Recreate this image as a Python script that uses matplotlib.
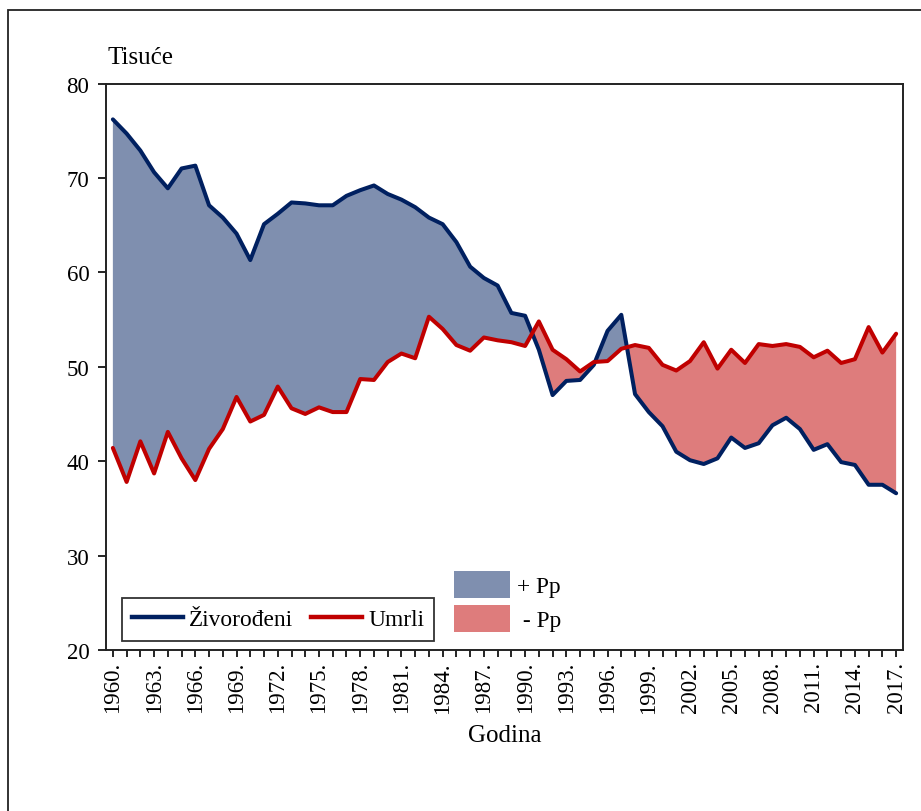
import matplotlib
matplotlib.use("Agg")
import matplotlib.pyplot as plt
from matplotlib.patches import Patch, Rectangle
from matplotlib.lines import Line2D
import numpy as np

years = list(range(1960, 2018))
births = [76.2, 74.7, 72.9, 70.6, 68.9, 71.0, 71.3, 67.1, 65.8, 64.1,
          61.3, 65.1, 66.2, 67.4, 67.3, 67.1, 67.1, 68.1, 68.7, 69.2,
          68.3, 67.7, 66.9, 65.8, 65.1, 63.2, 60.6, 59.4, 58.6, 55.7,
          55.4, 51.8, 47.0, 48.5, 48.6, 50.2, 53.8, 55.5, 47.1, 45.2,
          43.7, 41.0, 40.1, 39.7, 40.3, 42.5, 41.4, 41.9, 43.8, 44.6,
          43.4, 41.2, 41.8, 39.9, 39.6, 37.5, 37.5, 36.6]
deaths = [41.4, 37.8, 42.1, 38.7, 43.1, 40.3, 38.0, 41.3, 43.4, 46.8,
          44.2, 44.9, 47.9, 45.6, 45.0, 45.7, 45.2, 45.2, 48.7, 48.6,
          50.5, 51.4, 50.9, 55.3, 54.0, 52.3, 51.7, 53.1, 52.8, 52.6,
          52.2, 54.8, 51.8, 50.8, 49.5, 50.5, 50.6, 51.9, 52.3, 52.0,
          50.2, 49.6, 50.6, 52.6, 49.8, 51.8, 50.4, 52.4, 52.2, 52.4,
          52.1, 51.0, 51.7, 50.4, 50.8, 54.2, 51.5, 53.5]
tick_labels = [f"{y}." if (y - 1960) % 3 == 0 else "" for y in years]

serif = ["Liberation Serif", "DejaVu Serif"]
plt.rcParams["font.family"] = serif

W, H = 921, 812
fig = plt.figure(figsize=(W / 100, H / 100), dpi=100)
fig.patch.set_facecolor("white")

# outer frame (only top and left visible in the crop)
fig.add_artist(Rectangle((8 / W, -0.1), 1.2, (H - 11) / H + 0.1,
                         transform=fig.transFigure, fill=False,
                         edgecolor="#222222", linewidth=1.3))

ax = fig.add_axes([106 / W, 1 - 651 / H, (903 - 106) / W, (651 - 84.5) / H])

blue_line = "#002060"
red_line = "#c00000"
blue_fill = "#7f8faf"
red_fill = "#de7c7c"

x = np.array(years, dtype=float)
b = np.array(births)
d = np.array(deaths)
ax.fill_between(x, b, d, where=b >= d, interpolate=True, color=blue_fill, linewidth=0)
ax.fill_between(x, b, d, where=b <= d, interpolate=True, color=red_fill, linewidth=0)
ax.plot(x, b, color=blue_line, linewidth=2.9, solid_joinstyle="round", solid_capstyle="round")
ax.plot(x, d, color=red_line, linewidth=2.9, solid_joinstyle="round", solid_capstyle="round")

ax.set_xlim(1959.5, 2017.5)
ax.set_ylim(20, 80)
ax.set_yticks([20, 30, 40, 50, 60, 70, 80])
ax.set_xticks(years)
ax.set_xticklabels(tick_labels, rotation=90, fontsize=16.5)
ax.tick_params(axis="y", labelsize=16.5, direction="out", length=6, width=1.2, pad=6)
ax.tick_params(axis="x", direction="out", length=5, width=1.2, pad=3)
for s in ax.spines.values():
    s.set_linewidth(1.4)
    s.set_color("#222222")

fig.text(107 / W, 1 - 58 / H, "Tisuće", fontsize=18, va="center", ha="left")
fig.text(505 / W, 1 - 736 / H, "Godina", fontsize=18, va="center", ha="center")

# line legend
h1 = [Line2D([], [], color=blue_line, linewidth=3.2),
      Line2D([], [], color=red_line, linewidth=3.2)]
leg1 = ax.legend(h1, ["Živorođeni", "Umrli"], ncol=2, loc="center",
                 bbox_to_anchor=(278 / W, 1 - 620.5 / H), bbox_transform=fig.transFigure,
                 frameon=True, fancybox=False, edgecolor="black", fontsize=16.8,
                 handlelength=2.2, handletextpad=0.25, columnspacing=0.75,
                 borderpad=0.45, borderaxespad=0)
leg1.get_frame().set_linewidth(1.3)
ax.add_artist(leg1)

# fill legend
h2 = [Patch(facecolor=blue_fill, edgecolor="none"),
      Patch(facecolor=red_fill, edgecolor="none")]
leg2 = ax.legend(h2, ["+ Pp", " - Pp"], loc="center",
                 bbox_to_anchor=(508 / W, 1 - 602.5 / H), bbox_transform=fig.transFigure,
                 frameon=False, fontsize=16.8, handlelength=2.37, handleheight=1.45,
                 handletextpad=0.34, labelspacing=0.26, borderpad=0, borderaxespad=0)

fig.savefig("out.png", dpi=100, facecolor="white")
